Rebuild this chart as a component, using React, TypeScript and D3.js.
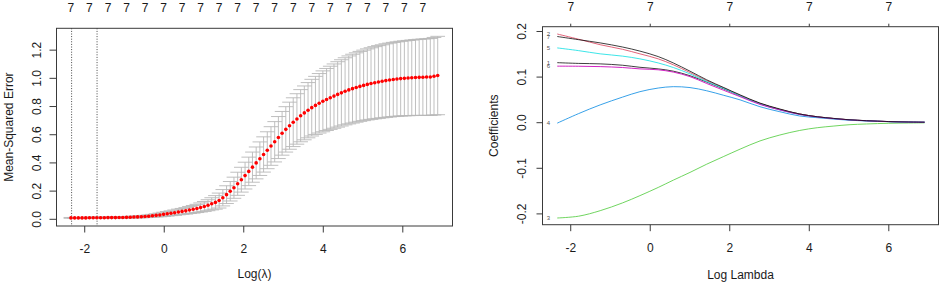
import React from "react";
import * as d3 from "d3";

// ---------- DATA ----------
const LOG_LAMBDA_FIRST = -2.347;
const LOG_LAMBDA_LAST = 6.878;
const N_LAMBDA = 100;

const CV_MEAN = [
  0.010, 0.010, 0.010, 0.010, 0.010, 0.011, 0.011, 0.011, 0.011, 0.011,
  0.012, 0.012, 0.012, 0.013, 0.013, 0.014, 0.015, 0.016, 0.017, 0.018,
  0.020, 0.022, 0.025, 0.028, 0.031, 0.035, 0.039, 0.043, 0.047, 0.052,
  0.056, 0.060, 0.066, 0.071, 0.077, 0.084, 0.091, 0.100, 0.110, 0.120,
  0.133, 0.153, 0.175, 0.199, 0.224, 0.252, 0.281, 0.310, 0.340, 0.370,
  0.400, 0.430, 0.460, 0.490, 0.520, 0.550, 0.580, 0.610, 0.638, 0.664,
  0.689, 0.712, 0.735, 0.755, 0.774, 0.792, 0.808, 0.823, 0.837, 0.850,
  0.862, 0.874, 0.886, 0.897, 0.908, 0.918, 0.927, 0.935, 0.943, 0.950,
  0.957, 0.963, 0.969, 0.974, 0.979, 0.984, 0.988, 0.992, 0.995, 0.998,
  1.000, 1.002, 1.004, 1.006, 1.007, 1.008, 1.009, 1.010, 1.015, 1.020,
];

const CV_SD = [
  0.003, 0.003, 0.003, 0.003, 0.003, 0.004, 0.004, 0.004, 0.004, 0.004,
  0.004, 0.004, 0.005, 0.005, 0.005, 0.005, 0.006, 0.006, 0.007, 0.007,
  0.008, 0.009, 0.010, 0.011, 0.013, 0.015, 0.016, 0.017, 0.019, 0.020,
  0.021, 0.023, 0.025, 0.027, 0.029, 0.032, 0.035, 0.039, 0.043, 0.048,
  0.053, 0.058, 0.063, 0.069, 0.075, 0.082, 0.088, 0.095, 0.101, 0.107,
  0.113, 0.119, 0.125, 0.131, 0.137, 0.143, 0.149, 0.155, 0.161, 0.167,
  0.173, 0.179, 0.185, 0.191, 0.196, 0.201, 0.206, 0.211, 0.216, 0.220,
  0.224, 0.228, 0.232, 0.235, 0.238, 0.241, 0.244, 0.246, 0.248, 0.250,
  0.252, 0.254, 0.256, 0.258, 0.259, 0.261, 0.262, 0.263, 0.264, 0.265,
  0.266, 0.267, 0.268, 0.269, 0.270, 0.271, 0.272, 0.273, 0.275, 0.278,
];

// number of nonzero coefficients shown on top of the CV plot (every 5th lambda)
const CV_NZERO = [7, 7, 7, 7, 7, 7, 7, 7, 7, 7, 7, 7, 7, 7, 7, 7, 7, 7, 7, 7];
const CV_NZERO_STEP = 5;

const LOG_LAMBDA_MIN = -2.33;
const LOG_LAMBDA_1SE = -1.69;

// coefficient paths
const COEF_LOG_LAMBDA = [-2.34, -1.8, -1.26, -0.7, -0.26, 0.2, 0.58, 1.0, 1.42, 1.85, 2.26, 2.76, 3.26, 3.76, 4.2, 4.6, 5.0, 5.44, 6.0, 6.5, 6.9];
const COEF_V1 = [0.1316, 0.130, 0.129, 0.126, 0.1215, 0.118, 0.113, 0.103, 0.089, 0.074, 0.059, 0.042, 0.029, 0.019, 0.013, 0.0093, 0.0064, 0.0043, 0.0024, 0.0014, 0.001];
const COEF_V2 = [0.1945, 0.183, 0.171, 0.161, 0.151, 0.140, 0.127, 0.110, 0.092, 0.076, 0.060, 0.042, 0.029, 0.019, 0.013, 0.0093, 0.0064, 0.0043, 0.0024, 0.0014, 0.001];
const COEF_V3 = [-0.209, -0.205, -0.193, -0.176, -0.160, -0.142, -0.126, -0.109, -0.091, -0.074, -0.058, -0.040, -0.027, -0.017, -0.011, -0.0075, -0.0045, -0.0028, -0.0013, -0.0007, -0.0003];
const COEF_V4 = [-0.001, 0.020, 0.039, 0.056, 0.068, 0.076, 0.079, 0.077, 0.070, 0.060, 0.050, 0.035, 0.024, 0.0147, 0.011, 0.008, 0.0055, 0.0038, 0.0022, 0.0013, 0.0009];
const COEF_V5 = [0.164, 0.158, 0.151, 0.146, 0.140, 0.131, 0.121, 0.107, 0.090, 0.075, 0.059, 0.041, 0.028, 0.018, 0.0125, 0.009, 0.0062, 0.0042, 0.0024, 0.0014, 0.001];
const COEF_V6 = [0.124, 0.1238, 0.123, 0.121, 0.118, 0.116, 0.111, 0.101, 0.086, 0.071, 0.057, 0.040, 0.028, 0.018, 0.0125, 0.009, 0.0062, 0.0042, 0.0024, 0.0014, 0.001];
const COEF_V7 = [0.189, 0.182, 0.175, 0.166, 0.157, 0.145, 0.131, 0.113, 0.094, 0.077, 0.061, 0.043, 0.030, 0.019, 0.013, 0.0095, 0.0065, 0.0044, 0.0025, 0.0015, 0.001];
const COEF_NAMES = ["1", "2", "3", "4", "5", "6", "7"];
const COEF_COLORS = ["#000000", "#DF536B", "#61D04F", "#2297E6", "#28E2E5", "#CD0BBC", "#000000"];

const X_TICKS = [-2, 0, 2, 4, 6];
const CV_Y_TICKS = [0, 0.2, 0.4, 0.6, 0.8, 1.0, 1.2];
const COEF_Y_TICKS = [-0.2, -0.1, 0, 0.1, 0.2];
const COEF_TOP_DF = [7, 7, 7, 7, 7];

// ---------- LAYOUT ----------
const W = 941;
const H = 284;
const FONT = "'Liberation Sans', Arial, Helvetica, sans-serif";
const AXIS = "#3a3a3a";
const TEXT = "#1a1a1a";

const L = { x0: 56.5, x1: 452.5, y0: 28.3, y1: 226 };
const R = { x0: 542.5, x1: 938.5, y0: 26.7, y1: 224.7 };
const X_DOMAIN: [number, number] = [-2.71, 7.25];

export default function App() {
  const logLambda = d3.range(N_LAMBDA).map(
    (i) => LOG_LAMBDA_FIRST + (i * (LOG_LAMBDA_LAST - LOG_LAMBDA_FIRST)) / (N_LAMBDA - 1)
  );

  // left panel scales
  const xl = d3.scaleLinear().domain(X_DOMAIN).range([L.x0, L.x1]);
  const yl = d3.scaleLinear().domain([-0.0475, 1.355]).range([L.y1, L.y0]);
  const barw = (LOG_LAMBDA_LAST - LOG_LAMBDA_FIRST) * 0.02;

  // right panel scales
  const xr = d3.scaleLinear().domain(X_DOMAIN).range([R.x0, R.x1]);
  const yr = d3.scaleLinear().domain([-0.2237, 0.2105]).range([R.y1, R.y0]);

  const coefSeries = [COEF_V1, COEF_V2, COEF_V3, COEF_V4, COEF_V5, COEF_V6, COEF_V7];
  const line = d3
    .line<[number, number]>()
    .x((d) => xr(d[0]))
    .y((d) => yr(d[1]))
    .curve(d3.curveCatmullRom.alpha(0.5));

  const fmt1 = d3.format(".1f");

  return (
    <svg
      width={W}
      height={H}
      style={{ position: "absolute", left: 0, top: 0, background: "#fff" }}
      fontFamily={FONT}
    >
      <rect x={0} y={0} width={W} height={H} fill="#fff" />

      {/* ================= LEFT PANEL ================= */}
      {[LOG_LAMBDA_MIN, LOG_LAMBDA_1SE].map((v, i) => (
        <line
          key={"dl" + i}
          x1={xl(v)}
          x2={xl(v)}
          y1={L.y0}
          y2={L.y1}
          stroke="#333"
          strokeWidth={0.9}
          strokeDasharray="1 1.6"
        />
      ))}
      <g stroke="#B8B8B8" strokeWidth={0.9} fill="none">
        {logLambda.map((v, i) => {
          const up = yl(CV_MEAN[i] + CV_SD[i]);
          const lo = yl(CV_MEAN[i] - CV_SD[i]);
          return (
            <g key={"eb" + i}>
              <line x1={xl(v)} x2={xl(v)} y1={up} y2={lo} />
              <line x1={xl(v - barw)} x2={xl(v + barw)} y1={up} y2={up} />
              <line x1={xl(v - barw)} x2={xl(v + barw)} y1={lo} y2={lo} />
            </g>
          );
        })}
      </g>
      <g fill="#FF0000">
        {logLambda.map((v, i) => (
          <circle key={"pt" + i} cx={xl(v)} cy={yl(CV_MEAN[i])} r={1.8} />
        ))}
      </g>
      <rect x={L.x0} y={L.y0} width={L.x1 - L.x0} height={L.y1 - L.y0} fill="none" stroke={AXIS} strokeWidth={1} />
      {X_TICKS.map((t) => (
        <g key={"lx" + t}>
          <line x1={xl(t)} x2={xl(t)} y1={L.y1} y2={L.y1 + 6.5} stroke={AXIS} />
          <text x={xl(t)} y={252.5} fontSize={12} textAnchor="middle" fill={TEXT}>
            {String(t)}
          </text>
        </g>
      ))}
      <text x={(L.x0 + L.x1) / 2} y={278} fontSize={12} textAnchor="middle" fill={TEXT}>
        Log(λ)
      </text>
      {CV_Y_TICKS.map((t) => (
        <g key={"ly" + t}>
          <line x1={L.x0 - 7} x2={L.x0} y1={yl(t)} y2={yl(t)} stroke={AXIS} />
          <text
            transform={`translate(40.5,${yl(t)}) rotate(-90)`}
            fontSize={12}
            textAnchor="middle"
            fill={TEXT}
          >
            {fmt1(t)}
          </text>
        </g>
      ))}
      <text
        transform={`translate(12.5,${(L.y0 + L.y1) / 2}) rotate(-90)`}
        fontSize={12}
        textAnchor="middle"
        fill={TEXT}
      >
        Mean-Squared Error
      </text>
      {CV_NZERO.map((n, k) => (
        <text
          key={"nz" + k}
          x={xl(logLambda[k * CV_NZERO_STEP])}
          y={12}
          fontSize={12}
          textAnchor="middle"
          fill={TEXT}
        >
          {String(n)}
        </text>
      ))}

      {/* ================= RIGHT PANEL ================= */}
      <g fill="none" strokeWidth={1}>
        {coefSeries.map((vals, j) => (
          <path
            key={"cp" + j}
            d={line(COEF_LOG_LAMBDA.map((v, i) => [v, vals[i]] as [number, number])) || ""}
            stroke={COEF_COLORS[j]}
            strokeOpacity={j === 0 || j === 6 ? 0.75 : 0.9}
          />
        ))}
      </g>
      {coefSeries.map((vals, j) => (
        <text
          key={"cl" + j}
          x={548.3}
          y={yr(vals[0]) + 2}
          fontSize={6}
          textAnchor="middle"
          fill="#555"
        >
          {COEF_NAMES[j]}
        </text>
      ))}
      <rect x={R.x0} y={R.y0} width={R.x1 - R.x0} height={R.y1 - R.y0} fill="none" stroke={AXIS} strokeWidth={1} />
      {X_TICKS.map((t) => (
        <g key={"rx" + t}>
          <line x1={xr(t)} x2={xr(t)} y1={R.y1} y2={R.y1 + 6.5} stroke={AXIS} />
          <text x={xr(t)} y={251.5} fontSize={12} textAnchor="middle" fill={TEXT}>
            {String(t)}
          </text>
        </g>
      ))}
      <text x={(R.x0 + R.x1) / 2} y={278.5} fontSize={12} textAnchor="middle" fill={TEXT}>
        Log Lambda
      </text>
      {COEF_Y_TICKS.map((t) => (
        <g key={"ry" + t}>
          <line x1={R.x0 - 6} x2={R.x0} y1={yr(t)} y2={yr(t)} stroke={AXIS} />
          <text
            transform={`translate(526,${yr(t)}) rotate(-90)`}
            fontSize={12}
            textAnchor="middle"
            fill={TEXT}
          >
            {fmt1(t).replace("−", "-")}
          </text>
        </g>
      ))}
      <text
        transform={`translate(498,${(R.y0 + R.y1) / 2}) rotate(-90)`}
        fontSize={12}
        textAnchor="middle"
        fill={TEXT}
      >
        Coefficients
      </text>
      {COEF_TOP_DF.map((n, k) => (
        <g key={"rt" + k}>
          <line x1={xr(X_TICKS[k])} x2={xr(X_TICKS[k])} y1={R.y0} y2={R.y0 - 3} stroke={AXIS} />
          <text x={xr(X_TICKS[k])} y={11} fontSize={12} textAnchor="middle" fill={TEXT}>
            {String(n)}
          </text>
        </g>
      ))}
    </svg>
  );
}
